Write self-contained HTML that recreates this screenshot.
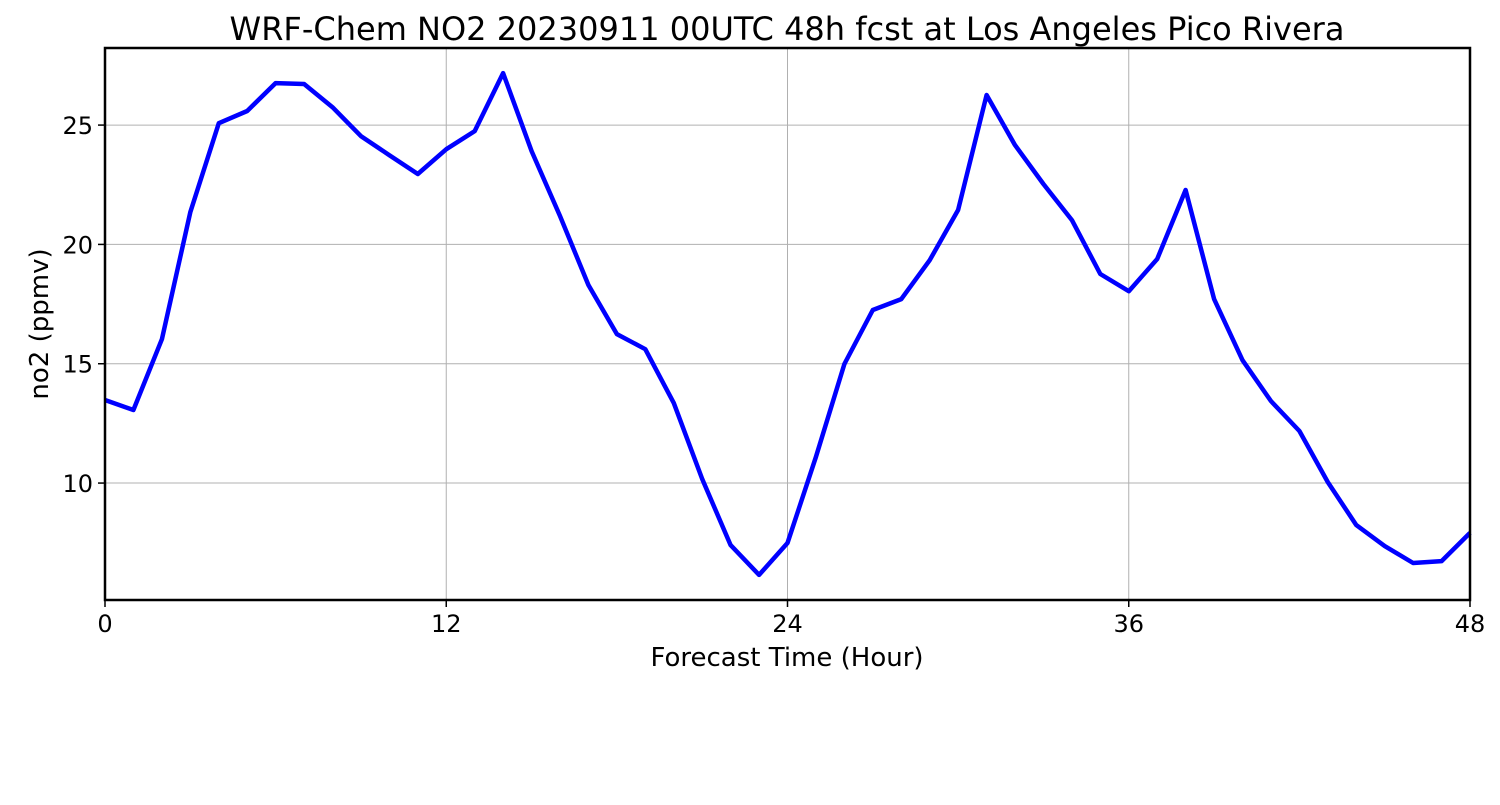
<!DOCTYPE html>
<html><head><meta charset="utf-8"><style>
body{margin:0;background:#fff;}
svg text{font-family:"DejaVu Sans","Liberation Sans",sans-serif;fill:#000;}
</style></head><body>
<svg id="chart" width="1500" height="800" xmlns="http://www.w3.org/2000/svg">
<text x="787" y="40" font-size="32" text-anchor="middle">WRF-Chem NO2  20230911 00UTC 48h fcst at Los Angeles Pico Rivera</text>
<g id="grid"></g>
<g id="ticks"></g>
<g id="series"></g>
<rect x="105" y="48" width="1365" height="552" fill="none" stroke="#000" stroke-width="2.5"/>
<text x="787" y="666" font-size="26" text-anchor="middle">Forecast Time (Hour)</text>
<text transform="translate(48,324) rotate(-90)" font-size="26" text-anchor="middle">no2  (ppmv)</text>
</svg>
<script>
const hours=[0,1,2,3,4,5,6,7,8,9,10,11,12,13,14,15,16,17,18,19,20,21,22,23,24,25,26,27,28,29,30,31,32,33,34,35,36,37,38,39,40,41,42,43,44,45,46,47,48];
const no2=[13.48,13.06,16.03,21.35,25.08,25.59,26.76,26.72,25.75,24.54,23.74,22.95,23.99,24.75,27.18,23.91,21.19,18.30,16.24,15.61,13.35,10.17,7.40,6.15,7.49,11.09,14.99,17.25,17.71,19.34,21.44,26.26,24.16,22.53,21.02,18.76,18.04,19.39,22.28,17.71,15.15,13.44,12.18,10.04,8.24,7.36,6.65,6.73,7.91];
const xTicks=[0,12,24,36,48];
const yTicks=[10,15,20,25];
const X0=105,X1=1470,Y0=48,Y1=600,xMin=0,xMax=48,yMin=5.10,yMax=28.23;
const sx=v=>X0+(v-xMin)/(xMax-xMin)*(X1-X0);
const sy=v=>Y1-(v-yMin)/(yMax-yMin)*(Y1-Y0);
const NS="http://www.w3.org/2000/svg";
const grid=document.getElementById('grid'),ticks=document.getElementById('ticks'),series=document.getElementById('series');
function mk(t,a,p){const e=document.createElementNS(NS,t);for(const k in a)e.setAttribute(k,a[k]);p.appendChild(e);return e;}
xTicks.forEach(t=>{
 const x=sx(t);
 const g=mk('line',{x1:x,x2:x,y1:Y0,y2:Y1,stroke:'#b0b0b0','stroke-width':1},grid);
 
 
 const tk=mk('line',{x1:x,x2:x,y1:Y1,y2:Y1+7,stroke:'#000','stroke-width':1.5},ticks);
 
 
 const l=mk('text',{x:x,y:Y1+32,'font-size':24,'text-anchor':'middle'},ticks);
 l.textContent=t;
 
 
});
yTicks.forEach(t=>{
 const y=sy(t);
 const g=mk('line',{x1:X0,x2:X1,y1:y,y2:y,stroke:'#b0b0b0','stroke-width':1},grid);
 
 
 const tk=mk('line',{x1:X0-7,x2:X0,y1:y,y2:y,stroke:'#000','stroke-width':1.5},ticks);
 
 
 const l=mk('text',{x:X0-12,y:y+9,'font-size':24,'text-anchor':'end'},ticks);
 l.textContent=t;
 
 
});
const pts=hours.map((h,i)=>sx(h).toFixed(1)+','+sy(no2[i]).toFixed(1)).join(' ');
const line=mk('polyline',{points:pts,fill:'none',stroke:'#0000ff','stroke-width':4.5,'stroke-linejoin':'round'},series);


</script>
</body></html>
